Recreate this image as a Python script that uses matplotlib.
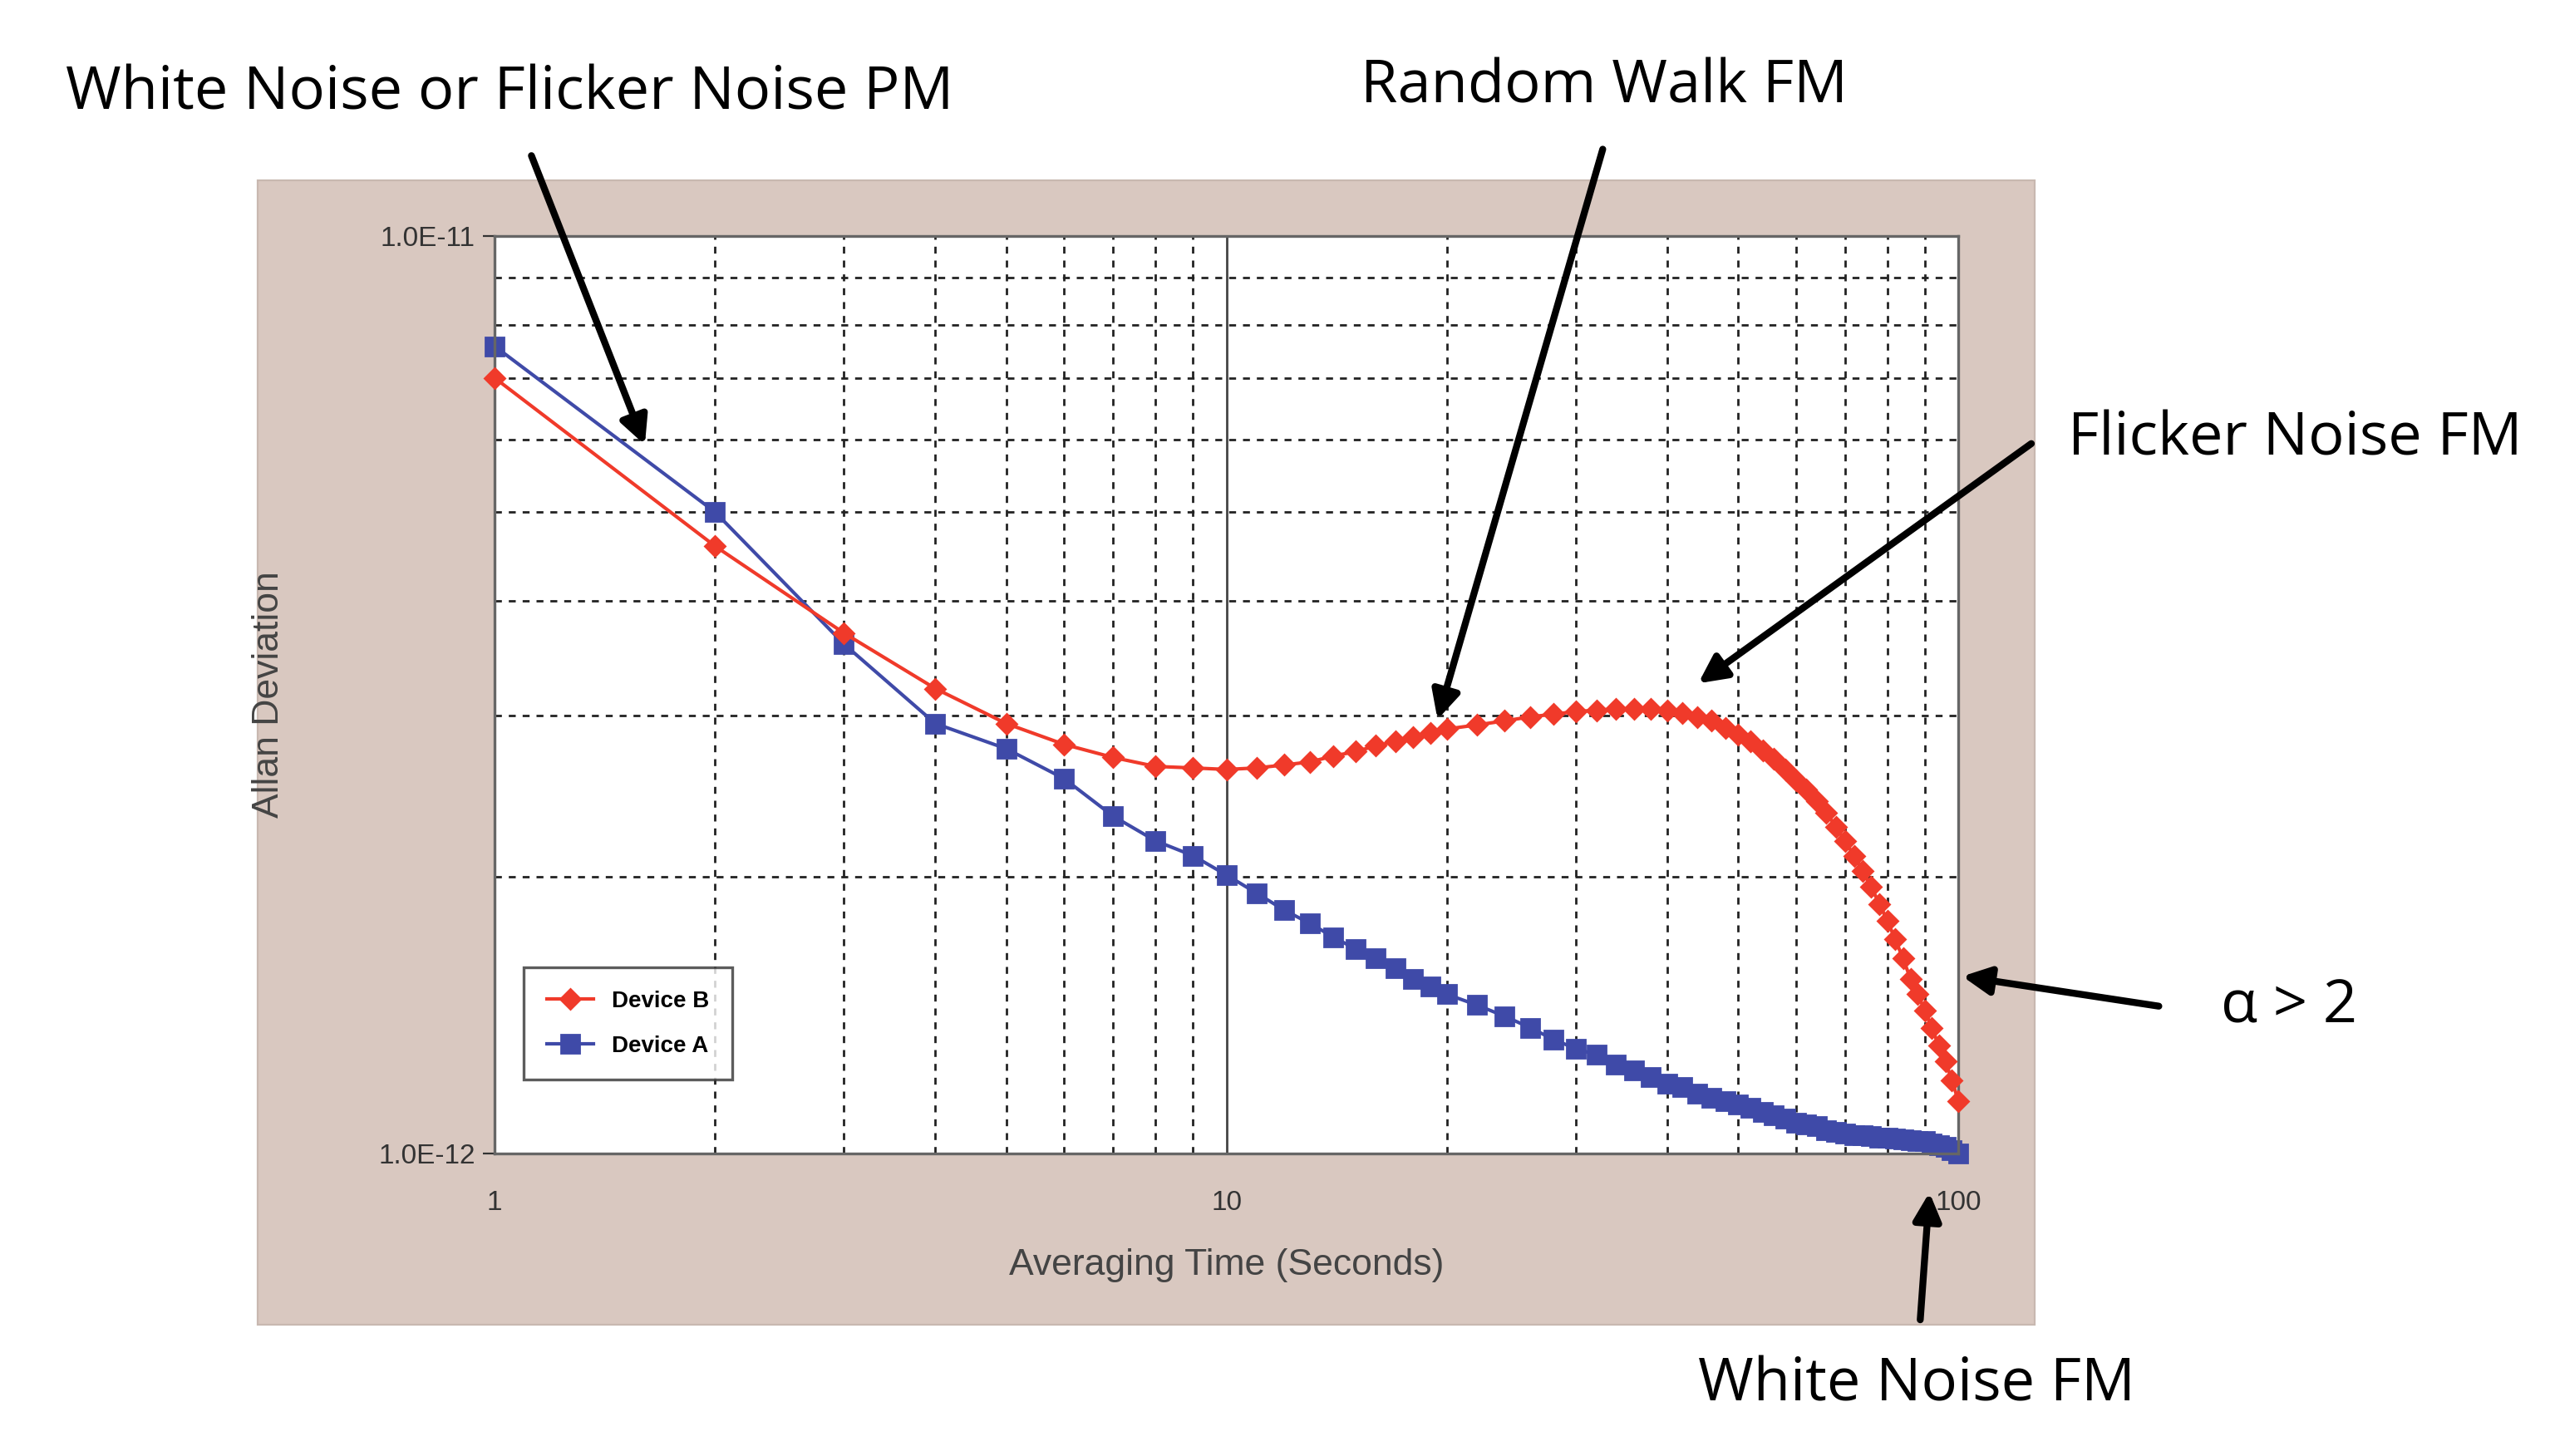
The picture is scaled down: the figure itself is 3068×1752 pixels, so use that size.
import matplotlib
matplotlib.use("Agg")
import matplotlib.pyplot as plt
from matplotlib.patches import Rectangle, FancyArrowPatch
from matplotlib.ticker import FixedLocator, LogLocator, NullFormatter

# 平均化時間 [s]
tau = list(range(1, 21)) + list(range(22, 101, 2))

# Device B (赤, ダイヤ) — 単位 1e-12
device_b = [7.0, 4.59, 3.69, 3.21, 2.94, 2.79, 2.70, 2.64, 2.63, 2.62,
            2.63, 2.65, 2.67, 2.71, 2.74, 2.78, 2.81, 2.84, 2.87, 2.90,
            2.93, 2.96, 2.99, 3.01, 3.03, 3.04, 3.05, 3.05, 3.05, 3.04,
            3.02, 2.99, 2.96, 2.91, 2.86, 2.81, 2.75, 2.69, 2.62, 2.55,
            2.49, 2.42, 2.35, 2.27, 2.19, 2.11, 2.03, 1.95, 1.87, 1.79,
            1.71, 1.63, 1.55, 1.49, 1.43, 1.37, 1.31, 1.26, 1.20, 1.14]

# Device A (青, 四角) — 単位 1e-12
device_a = [7.58, 5.0, 3.59, 2.94, 2.76, 2.56, 2.33, 2.19, 2.11, 2.01,
            1.92, 1.84, 1.78, 1.72, 1.67, 1.63, 1.59, 1.55, 1.52, 1.49,
            1.45, 1.41, 1.37, 1.33, 1.30, 1.28, 1.25, 1.23, 1.21, 1.19,
            1.18, 1.16, 1.15, 1.14, 1.13, 1.12, 1.11, 1.10, 1.09, 1.08,
            1.075, 1.07, 1.06, 1.055, 1.05, 1.047, 1.045, 1.043, 1.04, 1.04,
            1.037, 1.035, 1.033, 1.03, 1.03, 1.025, 1.02, 1.015, 1.008, 1.0]

x_ticks = [1, 10, 100]
x_labels = ["1", "10", "100"]
y_ticks = [1e-12, 1e-11]
y_labels = ["1.0E-12", "1.0E-11"]

plt.rcParams['font.family'] = ['Liberation Sans', 'DejaVu Sans']

fig = plt.figure(figsize=(15.34, 8.76), dpi=200)
fig.patch.set_facecolor('white')

# 背景パネル（軸の後ろ）
fig.add_artist(Rectangle((0.101, 0.090), 0.697, 0.786, transform=fig.transFigure,
                         facecolor='#d9c8c0', edgecolor='#c8b8b0', lw=0.8, zorder=-5))

ax = fig.add_axes([0.194, 0.208, 0.574, 0.630])
ax.set_zorder(1)
ax.set_facecolor('white')
ax.set_xscale('log')
ax.set_yscale('log')
ax.set_xlim(1, 100)
ax.set_ylim(1e-12, 1e-11)

ax.plot(tau, [v * 1e-12 for v in device_b], color='#f03a2a', marker='D', markersize=6,
        linewidth=1.5, label='Device B', zorder=3, clip_on=False)
ax.plot(tau, [v * 1e-12 for v in device_a], color='#3f4aa8', marker='s', markersize=8,
        linewidth=1.5, label='Device A', zorder=2, clip_on=False)

ax.xaxis.set_major_locator(FixedLocator(x_ticks))
ax.set_xticklabels(x_labels)
ax.xaxis.set_minor_locator(LogLocator(base=10, subs=range(2, 10)))
ax.xaxis.set_minor_formatter(NullFormatter())
ax.yaxis.set_major_locator(FixedLocator(y_ticks))
ax.set_yticklabels(y_labels)
ax.yaxis.set_minor_locator(LogLocator(base=10, subs=range(2, 10)))
ax.yaxis.set_minor_formatter(NullFormatter())

ax.grid(True, which='minor', color='#222222', linestyle=(0, (3, 3)), linewidth=1.0)
ax.axvline(10, color='#444444', linewidth=1.0, zorder=1)
ax.tick_params(which='minor', length=0)
ax.tick_params(which='major', axis='x', length=0, pad=16, labelsize=12, colors='#333333')
ax.tick_params(which='major', axis='y', length=5, labelsize=12, colors='#333333')
for s in ax.spines.values():
    s.set_color('#666666')
    s.set_linewidth(1.2)

ax.set_xlabel('Averaging Time (Seconds)', fontsize=16, color='#444444', labelpad=14)
ax.set_ylabel('Allan Deviation', fontsize=16, color='#444444', labelpad=40)

leg = ax.legend(loc='upper left', bbox_to_anchor=(0.012, 0.215), fontsize=10,
                frameon=True, fancybox=False, edgecolor='#333333', borderpad=1.0,
                labelspacing=1.0, handlelength=2.0)
leg.get_frame().set_linewidth(1.2)
for t in leg.get_texts():
    t.set_fontweight('bold')

W, H = 1550.0, 885.0
def fpos(x, y):
    return (x / W, 1 - y / H)

arrow = dict(arrowstyle='-|>', color='black', lw=3, mutation_scale=25)
fs = 26
font = ['Open Sans', 'DejaVu Sans']
fig.text(*fpos(40, 57), 'White Noise or Flicker Noise PM', fontsize=fs,
         family=font, va='center', ha='left')
fig.text(*fpos(975, 53), 'Random Walk FM', fontsize=fs,
         family=font, va='center', ha='center')
fig.text(*fpos(1257, 267), 'Flicker Noise FM', fontsize=fs,
         family=font, va='center', ha='left')
fig.text(*fpos(1350, 612), 'α > 2', fontsize=fs,
         family=font, va='center', ha='left')
fig.text(*fpos(1165, 842), 'White Noise FM', fontsize=fs,
         family=font, va='center', ha='center')

for start, end in [((322, 92), (393, 273)), ((975, 88), (873, 440)),
                   ((1237, 268), (1030, 417)), ((1315, 612), (1190, 593)),
                   ((1167, 805), (1173, 722))]:
    a = FancyArrowPatch(fpos(*start), fpos(*end), transform=fig.transFigure, **arrow)
    a.set_zorder(10)
    fig.add_artist(a)

fig.savefig('out.png', dpi=200)
